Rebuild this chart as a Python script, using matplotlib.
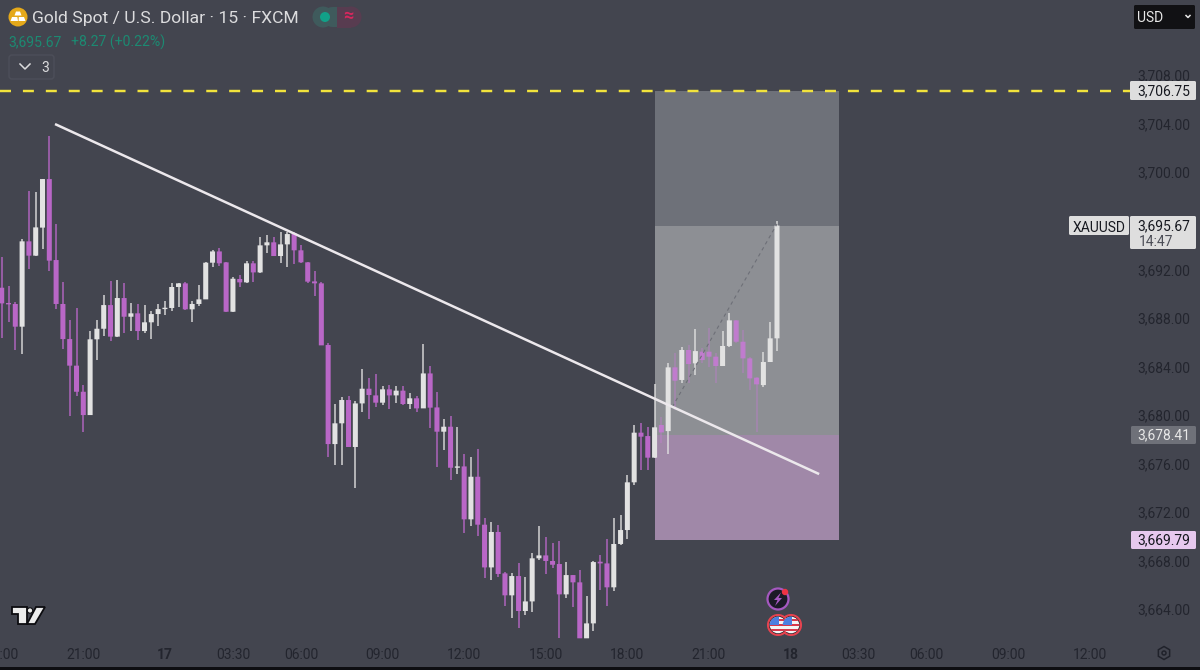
import numpy as np
import matplotlib
matplotlib.use('Agg')
import matplotlib.pyplot as plt
from matplotlib.patches import Circle, Polygon, FancyBboxPatch, Rectangle, RegularPolygon
from matplotlib.transforms import blended_transform_factory, ScaledTranslation

plt.rcParams['font.family'] = ['Roboto', 'DejaVu Sans']
plt.rcParams['lines.scale_dashes'] = False

# 15 min candles
opens = [3690.55,3689.26,3689.21,3687.34,3694.37,3693.19,3695.50,3699.50,3692.83,3689.21,
         3686.32,3684.13,3681.98,3680.06,3686.30,3687.17,3689.12,3686.52,3689.70,3688.16,
         3688.44,3686.98,3687.70,3688.38,3688.79,3688.88,3690.61,3690.91,3688.77,3689.21,
         3689.59,3692.61,3693.54,3692.64,3688.57,3691.27,3690.99,3692.56,3691.81,3694.04,
         3694.29,3693.16,3694.12,3695.03,3693.63,3692.64,3691.07,3690.91,3685.83,3677.67,
         3679.38,3681.30,3677.43,3681.02,3682.23,3681.68,3681.08,3682.18,3681.68,3682.07,
         3680.97,3681.44,3680.61,3683.49,3680.69,3678.69,3679.10,3675.72,3675.83,3671.47,
         3674.98,3671.03,3667.51,3670.43,3667.02,3665.21,3666.80,3663.92,3664.71,3668.26,
         3668.50,3668.04,3667.79,3665.29,3666.88,3666.28,3661.67,3662.90,3667.98,3667.84,
         3665.87,3669.44,3670.59,3674.52,3678.61,3678.33,3676.55,3679.24,3678.74,3683.99,
         3682.95,3685.42,3684.32,3685.28,3685.28,3684.87,3684.10,3685.75,3687.86,3686.10,
         3684.73,3683.14,3682.53,3684.43,3686.38]
closes = [3689.26,3689.18,3687.34,3694.37,3693.19,3695.52,3699.50,3692.78,3689.21,3686.32,
          3684.13,3681.98,3680.06,3686.30,3687.17,3689.12,3686.52,3689.70,3688.16,3688.44,
          3686.98,3687.70,3688.38,3688.79,3688.88,3690.61,3690.91,3688.77,3689.21,3689.59,
          3692.61,3693.54,3692.56,3688.57,3691.29,3690.99,3692.56,3691.81,3694.04,3694.29,
          3693.16,3694.12,3694.97,3693.63,3692.64,3691.05,3690.91,3685.80,3677.67,3679.38,
          3681.30,3677.43,3681.02,3682.23,3681.71,3681.08,3682.18,3681.68,3682.07,3680.97,
          3681.44,3680.61,3683.49,3680.67,3678.69,3679.10,3675.72,3675.83,3671.47,3674.98,
          3671.03,3667.51,3670.43,3666.97,3665.21,3666.80,3663.92,3664.71,3668.26,3668.50,
          3668.04,3667.73,3665.29,3666.88,3666.28,3661.67,3662.90,3667.95,3667.84,3665.87,
          3669.44,3670.59,3674.52,3678.61,3678.28,3676.55,3679.05,3678.63,3683.99,3682.89,
          3685.42,3684.26,3685.33,3684.59,3684.87,3684.10,3685.75,3687.86,3686.10,3684.73,
          3683.08,3682.59,3684.43,3686.38,3695.67]
highs = [3693.05,3690.72,3689.40,3694.53,3698.54,3698.40,3699.50,3703.04,3695.77,3690.99,
         3687.89,3688.85,3682.53,3687.01,3687.89,3689.97,3691.07,3691.18,3690.96,3689.32,
         3689.21,3689.10,3688.66,3689.21,3689.45,3690.91,3690.91,3691.05,3689.45,3690.77,
         3692.69,3693.65,3693.79,3692.64,3691.46,3691.59,3692.72,3692.72,3694.75,3694.89,
         3694.75,3695.16,3695.16,3695.16,3694.07,3692.64,3691.95,3691.02,3686.02,3680.94,
         3681.57,3681.66,3681.22,3683.82,3683.08,3683.44,3682.45,3682.53,3682.48,3682.45,
         3681.90,3681.63,3685.88,3684.13,3681.93,3679.71,3679.98,3679.10,3676.82,3676.63,
         3677.26,3671.55,3671.28,3671.00,3667.16,3667.02,3667.90,3666.69,3668.72,3670.95,
         3670.04,3669.49,3669.71,3667.93,3666.88,3667.29,3665.15,3668.06,3668.53,3669.85,
         3671.55,3671.83,3675.12,3679.21,3679.38,3679.10,3682.62,3679.93,3684.32,3685.14,
         3685.64,3685.83,3687.15,3685.55,3687.20,3685.14,3687.01,3688.44,3687.86,3687.06,
         3684.87,3683.22,3685.28,3687.75,3696.07]
lows = [3686.38,3687.75,3685.42,3685.09,3692.09,3693.19,3693.71,3691.95,3688.79,3685.53,
        3679.98,3681.63,3678.69,3680.06,3684.59,3686.57,3686.19,3686.52,3686.79,3687.01,
        3686.24,3686.84,3686.35,3687.39,3688.30,3688.66,3688.93,3688.71,3687.70,3689.04,
        3689.59,3692.28,3692.34,3688.57,3688.57,3690.63,3690.91,3690.99,3691.73,3693.38,
        3693.16,3692.56,3692.23,3692.50,3692.61,3690.96,3689.87,3685.80,3676.58,3675.94,
        3675.94,3677.43,3674.08,3680.34,3679.73,3680.75,3680.89,3680.56,3681.08,3680.89,
        3680.56,3680.34,3680.61,3678.96,3675.81,3677.18,3674.71,3675.18,3670.37,3670.92,
        3670.12,3666.66,3666.47,3666.75,3664.33,3663.31,3662.49,3663.59,3663.86,3668.12,
        3666.97,3667.49,3661.67,3665.02,3664.27,3661.67,3661.67,3662.30,3665.65,3664.33,
        3665.57,3669.35,3669.82,3674.30,3675.53,3675.53,3676.51,3677.73,3676.85,3680.47,
        3682.67,3682.67,3683.36,3684.32,3684.04,3682.67,3684.10,3685.64,3685.97,3683.49,
        3682.12,3678.69,3682.40,3684.43,3685.31]

y_ticks = [3664, 3668, 3672, 3676, 3680, 3684, 3688, 3692, 3700, 3704, 3708]
x_tick_pos = [0, 12, 24, 34, 44, 56, 68, 80, 92, 104, 116, 126, 136, 148, 160]
x_tick_labels = ['18:00', '21:00', '17', '03:30', '06:00', '09:00', '12:00', '15:00',
                 '18:00', '21:00', '18', '03:30', '06:00', '09:00', '12:00']
bold_ticks = ['17', '18']

# the long position tool and the drawn lines
target_price = 3706.75
last_price = 3695.67
entry_price = 3678.41
stop_price = 3669.79
box_start = 96
box_end = 123.1
trend_x = [7.84, 120.2]
trend_y = [3704.03, 3675.2]
path_x = [98.6, 114]
path_y = [3680.72, 3695.8]

BG = '#43454f'
PURPLE = '#b967c7'
WHITE = '#e2e2e2'
DARK = '#23252e'
FS = 10

fig = plt.figure(figsize=(12, 6.7), dpi=100, facecolor=BG)
ax = fig.add_axes([0, 0, 1, 1], facecolor=BG)
ax.set_xlim(-0.25, 176.2)
ax.set_ylim(3659.06, 3714.25)
ax.axis('off')

# zones
ax.bar(box_start, target_price - last_price, box_end - box_start, bottom=last_price,
       align='edge', color='#6e7179', zorder=1)
ax.bar(box_start, last_price - entry_price, box_end - box_start, bottom=entry_price,
       align='edge', color='#8d8f94', zorder=1)
ax.bar(box_start, entry_price - stop_price, box_end - box_start, bottom=stop_price,
       align='edge', color='#a088a8', zorder=1)

# candles
x = np.arange(len(opens))
o = np.array(opens)
c = np.array(closes)
h = np.array(highs)
l = np.array(lows)
up = c >= o
inside = x >= box_start
min_h = 0.11


def candles(mask, color, alpha=1.0, wick_alpha=0.9):
    ax.vlines(x[mask], l[mask], h[mask], color=color, lw=1.1, alpha=wick_alpha, zorder=2)
    tops = np.maximum(o[mask], c[mask])
    bots = np.minimum(o[mask], c[mask])
    bars = ax.bar(x[mask], np.maximum(tops - bots, min_h), 0.74, bottom=bots, color=color,
                  alpha=alpha, lw=0, zorder=3)
    for b in bars:
        b.set_snap(False)


candles(~up & ~inside, PURPLE)
candles(~up & inside, '#c77ad6', alpha=0.85, wick_alpha=0.45)
candles(up, WHITE)

# lines
ax.plot(path_x, path_y, color='#6d6f77', lw=0.8, dashes=(2.5, 2.5), zorder=4)
ax.plot(trend_x, trend_y, color='#ece8ec', lw=1.8, solid_capstyle='butt', zorder=5)
x_line_end = (1130 - 1.7) / 6.8
ax.plot([-0.25, x_line_end], [target_price, target_price], color='#f2e33c', lw=1.75,
        dashes=(7.9, 8.6), dash_capstyle='butt', zorder=5)

# axis labels
ui = fig.add_axes([0, 0, 1, 1], facecolor='none')
ui.set_xlim(0, 1200)
ui.set_ylim(670, 0)
ui.axis('off')
price_tr = blended_transform_factory(ui.transData, ax.transData) + ScaledTranslation(0, 0.008, fig.dpi_scale_trans)
time_tr = blended_transform_factory(ax.transData, ui.transData)

for p in y_ticks:
    ui.text(1164, p, f'{p:,.2f}', transform=price_tr, color=DARK, fontsize=FS,
            ha='center', va='center_baseline')
for pos, lab in zip(x_tick_pos, x_tick_labels):
    ui.text(pos, 653.5, lab, transform=time_tr, color=DARK, fontsize=FS, ha='center',
            va='center_baseline', fontweight='bold' if lab in bold_ticks else 'normal')


def tag(x0, x1, y0, y1, fc):
    ui.add_patch(FancyBboxPatch((x0 + 1, y0 + 1), x1 - x0 - 2, y1 - y0 - 2,
                                boxstyle='round,pad=1,rounding_size=1.5', fc=fc, ec='none', zorder=6))


tag(1130, 1196, 81, 100, '#dedede')
ui.text(1164, target_price, f'{target_price:,.2f}', transform=price_tr, color='#16181f',
        fontsize=FS, ha='center', va='center_baseline', zorder=7)
tag(1130, 1196, 216, 249, '#dedede')
tag(1069, 1129, 216, 235, '#dedede')
ui.text(1099, 226, 'XAUUSD', color='#16181f', fontsize=FS, ha='center', va='center_baseline', zorder=7)
ui.text(1164, last_price, f'{last_price:,.2f}', transform=price_tr, color='#16181f',
        fontsize=FS, ha='center', va='center_baseline', zorder=7)
ui.text(1139, 240, '14:47', color='#4c4e57', fontsize=FS, ha='left', va='center_baseline', zorder=7)
tag(1131, 1196, 426, 444, '#6f7179')
ui.text(1164, entry_price, f'{entry_price:,.2f}', transform=price_tr, color='#e8e8e8',
        fontsize=FS, ha='center', va='center_baseline', zorder=7)
tag(1131, 1196, 531, 549, '#e6c8ee')
ui.text(1164, stop_price, f'{stop_price:,.2f}', transform=price_tr, color='#16181f',
        fontsize=FS, ha='center', va='center_baseline', zorder=7)

# USD button
tag(1134, 1195, 5, 29, '#111114')
ui.text(1137, 16.5, 'USD', color='#e8e8e8', fontsize=10, ha='left', va='center_baseline', zorder=7)
ui.plot([1186, 1188, 1190], [15.5, 17.5, 15.5], color='#e8e8e8', lw=1.1, zorder=7)

# header
ui.add_patch(Circle((18, 17), 9.5, fc='#e5a91a', ec='none'))
ui.add_patch(Polygon([(16, 11.5), (20, 11.5), (21.5, 15.5), (14.5, 15.5)], fc='white', ec='none'))
ui.add_patch(Polygon([(12, 17), (17.3, 17), (18, 21), (10.5, 21)], fc='white', ec='none'))
ui.add_patch(Polygon([(18.8, 17), (24, 17), (25.5, 21), (18.6, 21)], fc='white', ec='none'))
ui.text(32, 17, 'Gold Spot / U.S. Dollar · 15 · FXCM', color='#dcdcde', fontsize=12.6,
        ha='left', va='center_baseline')
ui.text(8.5, 40.5, '3,695.67', color='#1c8a72', fontsize=10.1, ha='left', va='center_baseline')
ui.text(71, 40.5, '+8.27 (+0.22%)', color='#1c8a72', fontsize=10.1, ha='left', va='center_baseline')

ui.add_patch(FancyBboxPatch((11, 57), 41, 20, boxstyle='round,pad=2,rounding_size=3',
                            fc='none', ec='#4d4f5a', lw=1))
ui.plot([20, 25, 30], [64, 69, 64], color='#dcdcde', lw=1.1)
ui.text(45, 66.5, '3', color='#dcdcde', fontsize=10, ha='center', va='center_baseline')

# status pill
ui.add_patch(FancyBboxPatch((323, 7), 26, 20, boxstyle='round,pad=0,rounding_size=10',
                            fc='#3f5a5c', ec='none'))
ui.add_patch(Circle((323, 17), 10.5, fc='#3f5a5c', ec='none'))
ui.add_patch(Rectangle((337, 6.5), 14, 21, fc='#583c50', ec='none'))
ui.add_patch(Circle((351, 17), 10.5, fc='#583c50', ec='none'))
ui.add_patch(Circle((325, 17), 5, fc='#12a088', ec='none'))
ui.text(348, 16.5, '≈', color='#d9275e', fontsize=13, ha='center', va='center',
        fontweight='bold')

# tradingview mark
ui.add_patch(Polygon([(12, 607), (27, 607), (27, 624), (17.5, 624), (17.5, 614), (12, 614)],
                     fc='#ececec', ec='#0c0c10', lw=1.3))
ui.add_patch(Circle((30, 610.5), 2.7, fc='#ececec', ec='#0c0c10', lw=0.8))
ui.add_patch(Polygon([(36, 607), (45, 607), (35, 624), (27, 624)],
                     fc='#ececec', ec='#0c0c10', lw=1.3))


def flag(cx, cy):
    ui.add_patch(Circle((cx, cy), 10, fc='#1a1a22', ec='#e5434f', lw=1.5, zorder=7))
    inner = Circle((cx, cy), 8.3, fc='#f4f4f4', ec='none', zorder=8)
    ui.add_patch(inner)
    for dy in (-6, -1.5, 3.5):
        s = Rectangle((cx - 9, cy + dy), 18, 2.2, fc='#d8384a', ec='none', zorder=9)
        ui.add_patch(s)
        s.set_clip_path(inner)
    b = Rectangle((cx - 9, cy - 9), 10, 9, fc='#4c7fe0', ec='none', zorder=10)
    ui.add_patch(b)
    b.set_clip_path(inner)


flag(791, 625)
flag(778, 625)
ui.add_patch(Circle((778, 599), 10.5, fc='#1b1a26', ec='#a558c0', lw=1.6, zorder=7))
ui.add_patch(Polygon([(781, 592.5), (774, 600), (777.5, 600), (775, 606), (782, 598), (778.5, 598)],
                     fc='#a558c0', ec='none', zorder=8))
ui.add_patch(Circle((785, 592), 3.2, fc='#ee3344', ec='none', zorder=9))

# settings gear
ui.add_patch(RegularPolygon((1164, 653), 6, radius=6.5, fc='none', ec='#20222b', lw=1.1))
ui.add_patch(Circle((1164, 653), 2, fc='none', ec='#20222b', lw=1.1))

# bottom edge
ui.add_patch(Rectangle((0, 667), 1200, 3, fc='#0e0e12', ec='none'))

fig.savefig('out.png', dpi=100, facecolor=BG)
